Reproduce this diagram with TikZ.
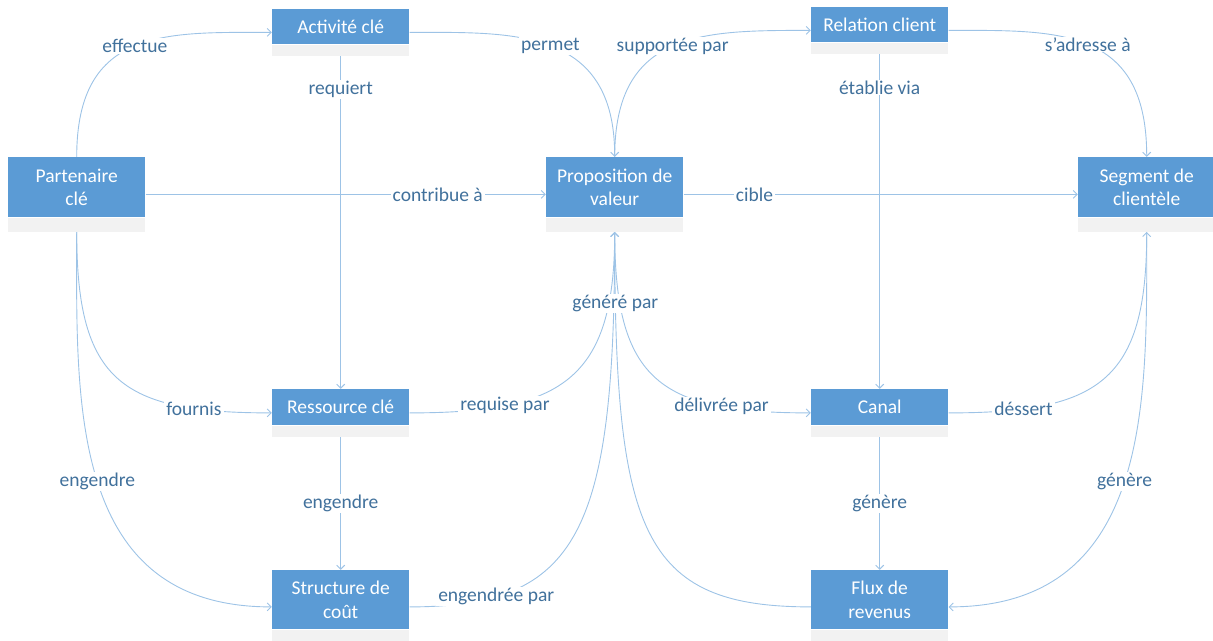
\documentclass[tikz,border=0pt]{standalone}
\usepackage{fontspec}
\setmainfont{Carlito}
\usetikzlibrary{arrows.meta,fit,calc}

\definecolor{boxblue}{HTML}{5B9BD5}
\definecolor{stripgray}{HTML}{F2F2F2}
\definecolor{linkblue}{HTML}{9DC3E6}
\definecolor{labelblue}{HTML}{41719C}

\tikzset{
  blockbody/.style={rectangle, fill=boxblue, text=white, minimum width=137,
    inner sep=0pt, align=center, font=\fontsize{19.5}{23.5}\selectfont},
  blockstrip/.style={rectangle, fill=stripgray, minimum width=137, inner sep=0pt},
  blockfit/.style={rectangle, inner sep=0pt},
  link/.style={draw=linkblue, line width=0.9pt,
    -{Straight Barb[length=4pt,width=8pt,line width=0.9pt]}},
  lab/.style={fill=white, text=labelblue, inner xsep=2pt, inner ysep=1pt,
    font=\fontsize{19.5}{23.5}\selectfont}
}

% one canvas block: coloured body, grey strip beneath, and a frame around both
\newcommand\bmcnode[6]{%
  \node[blockbody, minimum height=#4, anchor=north west] (#1-b) at (#2,#3) {#6};
  \node[blockstrip, minimum height=#5, anchor=north] (#1-s) at (#1-b.south) {};
  \node[blockfit, fit=(#1-b)(#1-s)] (#1) {};
}

% curved link: start anchor, end anchor, offset of first control from start,
% offset of second control from end, label position, label text
\newcommand\curvelink[6]{%
  \draw[link] (#1) .. controls ($(#1)+(#3)$) and ($(#2)+(#4)$) .. (#2)
    node[lab,pos=#5]{#6};
}

\begin{document}
\begin{tikzpicture}[x=1pt, y=-1pt]
\useasboundingbox (0,0) rectangle (1213,640);
\clip (0,0) rectangle (1213,640);

% blocks
\bmcnode{pc}{8}{157}{60}{14}{Partenaire\\clé}
\bmcnode{ac}{272}{9}{35}{11}{Activité clé}
\bmcnode{pv}{546}{157}{60}{14}{Proposition de\\valeur}
\bmcnode{rc}{811}{7}{35}{11}{Relation client}
\bmcnode{sc}{1078}{157}{60}{14}{Segment de\\clientèle}
\bmcnode{rk}{272}{389}{36}{11}{Ressource clé}
\bmcnode{ca}{811}{389}{36}{11}{Canal}
\bmcnode{st}{272}{570}{59}{14}{Structure de\\coût}
\bmcnode{fl}{811}{570}{59}{14}{Flux de\\revenus}

% upper relations
\curvelink{pc.north}{ac.west}{0,-130}{-105,0}{0.5}{effectue}
\curvelink{ac.east}{pv.north}{102,0}{0,-130}{0.5}{permet}
\curvelink{pv.north}{rc.west}{0,-127}{-107,0}{0.5}{supportée par}
\curvelink{rc.east}{sc.north}{107,0}{0,-131}{0.5}{s’adresse à}

% vertical links
\draw[link] (ac.south) -- node[lab,pos=0.1]{requiert} (rk.north);
\draw[link] (rc.south) -- node[lab,pos=0.1]{établie via} (ca.north);
\draw[link] (rk.south) -- node[lab]{engendre} (st.north);
\draw[link] (ca.south) -- node[lab]{génère} (fl.north);

% horizontal links
\draw[link] (pc.east) -- node[lab,pos=0.73]{contribue à} (pv.west);
\draw[link] (pv.east) -- node[lab,pos=0.18]{cible} (sc.west);

% left side
\curvelink{pc.south}{rk.west}{0,150}{-150,0}{0.8}{fournis}
\curvelink{pc.south}{st.west}{0,165}{-205,0}{0.5}{engendre}

% right side
\curvelink{ca.east}{sc.south}{150,0}{0,150}{0.19}{déssert}
\curvelink{sc.south}{fl.east}{0,165}{205,0}{0.5}{génère}

% links meeting under the value proposition
\curvelink{rk.east}{pv.south}{150,0}{0,150}{0.25}{requise par}
\curvelink{st.east}{pv.south}{170,0}{0,300}{0.2}{engendrée par}
\curvelink{pv.south}{ca.west}{0,150}{-150,0}{0.765}{délivrée par}
\curvelink{fl.west}{pv.south}{-170,0}{0,300}{0.915}{généré par}
\end{tikzpicture}
\end{document}
